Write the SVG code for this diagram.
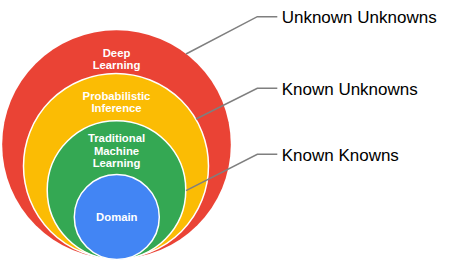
<svg xmlns="http://www.w3.org/2000/svg" width="450" height="263" viewBox="0 0 450 263">
<style>
.inner{stroke:#ffffff;stroke-width:1.5}
.lbl{font-family:"Liberation Sans",Arial,sans-serif;font-weight:bold;font-size:11.3px;fill:#ffffff;text-anchor:middle}
.side{font-family:"Liberation Sans",Arial,sans-serif;font-size:17px;fill:#000000}
.lead{fill:none;stroke:#7f7f7f;stroke-width:1.5}
</style>
<rect width="450" height="263" fill="#ffffff"/>
<g id="deep-learning">
<circle cx="116.5" cy="144.5" r="114.3" fill="#EA4335"/>
<text class="lbl" x="116.5" y="57">Deep</text>
<text class="lbl" x="116.5" y="69">Learning</text>
</g>
<g id="probabilistic-inference">
<circle class="inner" cx="116" cy="166" r="92.5" fill="#FBBC04"/>
<text class="lbl" x="116.5" y="100">Probabilistic</text>
<text class="lbl" x="116.5" y="112">Inference</text>
</g>
<g id="traditional-ml">
<circle class="inner" cx="116.5" cy="190" r="69.3" fill="#34A853"/>
<text class="lbl" x="116.5" y="142">Traditional</text>
<text class="lbl" x="116.5" y="155">Machine</text>
<text class="lbl" x="116.5" y="167">Learning</text>
</g>
<g id="domain">
<circle class="inner" cx="116.8" cy="217" r="42.5" fill="#4285F4"/>
<text class="lbl" x="116.8" y="221">Domain</text>
</g>
<g id="connectors">
<polyline class="lead" points="186,54 257.3,16.7 277.3,16.7"/>
<polyline class="lead" points="196,119 257.3,88.3 277.3,88.3"/>
<polyline class="lead" points="186,190.7 257.3,154.3 277.3,154.3"/>
</g>
<g id="label-unknown-unknowns"><text class="side" x="281.7" y="23.3">Unknown Unknowns</text></g>
<g id="label-known-unknowns"><text class="side" x="281.7" y="95">Known Unknowns</text></g>
<g id="label-known-knowns"><text class="side" x="281.7" y="161">Known Knowns</text></g>
</svg>
